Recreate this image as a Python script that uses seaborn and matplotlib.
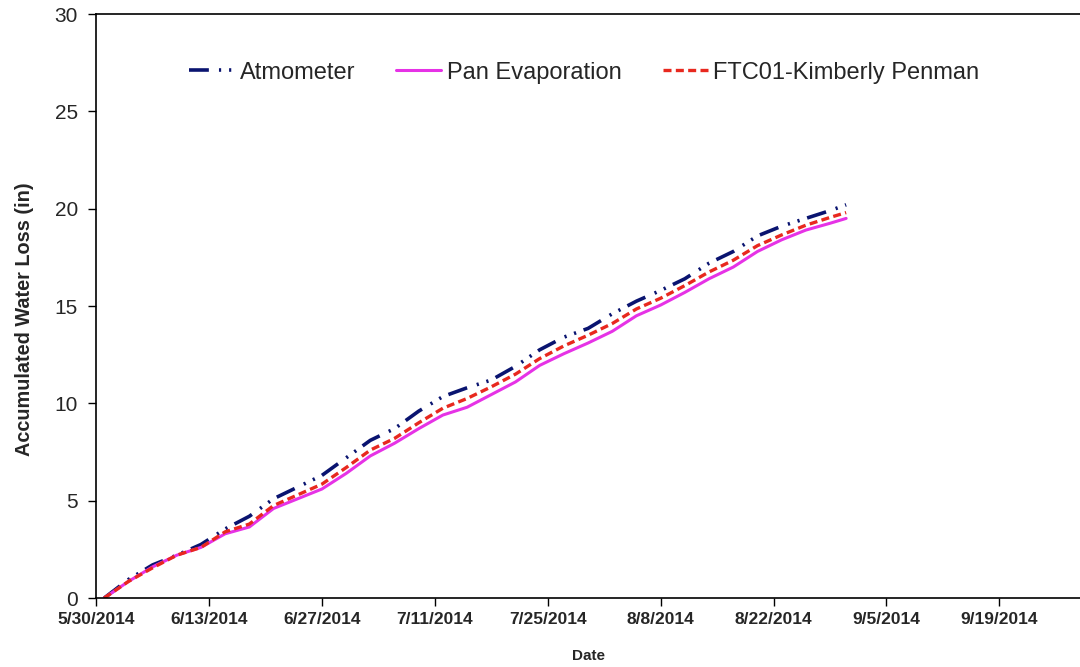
import matplotlib
matplotlib.use("Agg")
import matplotlib.pyplot as plt
import matplotlib.dates as mdates
import matplotlib.ticker as mticker
import seaborn as sns
import pandas as pd
import numpy as np

dates = ["2014-05-31", "2014-06-03", "2014-06-06", "2014-06-09", "2014-06-12", "2014-06-15",
         "2014-06-18", "2014-06-21", "2014-06-24", "2014-06-27", "2014-06-30", "2014-07-03",
         "2014-07-06", "2014-07-09", "2014-07-12", "2014-07-15", "2014-07-18", "2014-07-21",
         "2014-07-24", "2014-07-27", "2014-07-30", "2014-08-02", "2014-08-05", "2014-08-08",
         "2014-08-11", "2014-08-14", "2014-08-17", "2014-08-20", "2014-08-23", "2014-08-26",
         "2014-08-29", "2014-08-31"]
atmometer = [0, 0.95, 1.7, 2.2, 2.75, 3.55, 4.2, 5.1, 5.7, 6.3, 7.2, 8.1, 8.7, 9.6, 10.35,
             10.8, 11.2, 11.9, 12.75, 13.4, 13.85, 14.6, 15.25, 15.8, 16.4, 17.2, 17.8, 18.6,
             19.1, 19.5, 19.9, 20.2]
pan = [0, 0.85, 1.6, 2.2, 2.6, 3.3, 3.65, 4.6, 5.1, 5.6, 6.4, 7.3, 7.95, 8.7, 9.4, 9.8,
       10.45, 11.1, 11.95, 12.55, 13.1, 13.7, 14.5, 15.05, 15.7, 16.4, 17.0, 17.8, 18.4,
       18.9, 19.25, 19.5]
kimberly = [0, 0.85, 1.55, 2.2, 2.6, 3.4, 3.8, 4.75, 5.3, 5.85, 6.7, 7.6, 8.2, 9.0, 9.75,
            10.25, 10.85, 11.5, 12.3, 12.95, 13.5, 14.1, 14.85, 15.4, 16.05, 16.75, 17.35,
            18.1, 18.65, 19.15, 19.55, 19.8]
series_names = ["Atmometer", "Pan Evaporation", "FTC01-Kimberly Penman"]
tick_dates = ["2014-05-30", "2014-06-13", "2014-06-27", "2014-07-11", "2014-07-25",
              "2014-08-08", "2014-08-22", "2014-09-05", "2014-09-19"]
y_ticks = [0, 5, 10, 15, 20, 25, 30]

sns.set_style("white")
plt.rcParams['font.family'] = ['Liberation Sans', 'DejaVu Sans']

d = pd.to_datetime(dates)
fig = plt.figure(figsize=(10.8, 6.67), dpi=100)
ax = fig.add_axes([0.089, 0.1034, 0.911, 0.8756])

sns.lineplot(x=d, y=atmometer, ax=ax, color="#0a1470", lw=2.6,
             linestyle=(0, (5.5, 2.8, 0.6, 2.2, 0.6, 2.2)), label=series_names[0])
sns.lineplot(x=d, y=pan, ax=ax, color="#e632e6", lw=2.2, linestyle="-",
             label=series_names[1])
sns.lineplot(x=d, y=kimberly, ax=ax, color="#e8281e", lw=2.4,
             linestyle=(0, (2.4, 1.3)), label=series_names[2])

start = pd.Timestamp("2014-05-30")
ax.set_xlim(start, start + pd.Timedelta(days=122))
ax.set_ylim(0, 30)
ax.set_xticks(pd.to_datetime(tick_dates))
ax.xaxis.set_major_formatter(mticker.FuncFormatter(
    lambda v, p: "{d.month}/{d.day}/{d.year}".format(d=mdates.num2date(v))))
ax.set_yticks(y_ticks)

for s in ["left", "bottom", "top"]:
    ax.spines[s].set_visible(True)
    ax.spines[s].set_color("black")
    ax.spines[s].set_linewidth(1.2)
ax.spines["right"].set_visible(False)

ax.tick_params(axis="both", which="major", direction="out", length=6, width=1,
               color="black", bottom=True, left=True)
ax.tick_params(axis="y", labelsize=15, pad=7)
ax.tick_params(axis="x", labelsize=12.5, pad=4)
for lab in ax.get_xticklabels():
    lab.set_fontweight("bold")

ax.set_xlabel("Date", fontsize=11, fontweight="bold", labelpad=16)
ax.set_ylabel("Accumulated Water Loss (in)", fontsize=14.3, fontweight="bold", labelpad=15)
ax.yaxis.label.set_y(0.478)

leg = ax.legend(loc="upper center", bbox_to_anchor=(0.496, 0.955), ncol=3, frameon=False,
                fontsize=17, handlelength=1.9, handletextpad=0.25, columnspacing=1.74)

fig.savefig("out.png", dpi=100)
